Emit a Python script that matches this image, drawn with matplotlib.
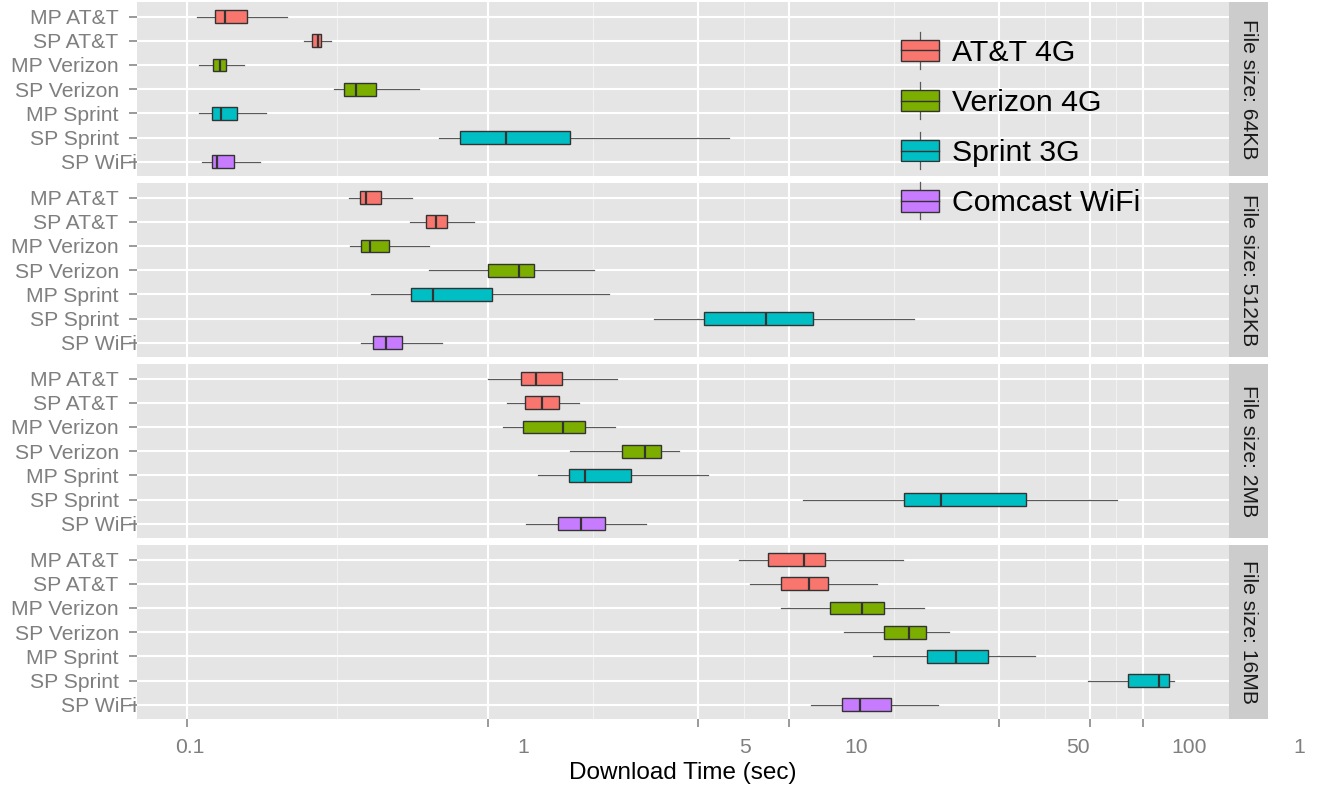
import numpy as np
import matplotlib
matplotlib.use("Agg")
import matplotlib.pyplot as plt
import matplotlib.transforms as mtransforms
from matplotlib.legend_handler import HandlerBase
from matplotlib.patches import Rectangle
from matplotlib.lines import Line2D

plt.rcParams['font.family'] = ['Liberation Sans', 'DejaVu Sans']

# ---------------------------------------------------------------- data
file_sizes = ["File size: 64KB", "File size: 512KB", "File size: 2MB", "File size: 16MB"]
categories = ["MP AT&T", "SP AT&T", "MP Verizon", "SP Verizon",
              "MP Sprint", "SP Sprint", "SP WiFi"]
category_carrier = [0, 0, 1, 1, 2, 2, 3]
carriers = ["AT&T 4G", "Verizon 4G", "Sprint 3G", "Comcast WiFi"]
carrier_colors = ["#F8766D", "#7CAE00", "#00BFC4", "#C77CFF"]

# five-number summaries (whisker low, Q1, median, Q3, whisker high), seconds
stats_64kb = [
    [0.1085, 0.124, 0.1345, 0.158, 0.215],
    [0.245, 0.261, 0.273, 0.280, 0.301],
    [0.110, 0.1223, 0.1287, 0.1355, 0.1555],
    [0.308, 0.333, 0.366, 0.426, 0.590],
    [0.110, 0.121, 0.130, 0.147, 0.184],
    [0.689, 0.811, 1.148, 1.873, 6.33],
    [0.112, 0.121, 0.126, 0.143, 0.175],
]
stats_512kb = [
    [0.345, 0.376, 0.393, 0.442, 0.558],
    [0.552, 0.622, 0.675, 0.734, 0.901],
    [0.349, 0.379, 0.406, 0.469, 0.637],
    [0.637, 1.002, 1.268, 1.421, 2.245],
    [0.409, 0.554, 0.658, 1.034, 2.52],
    [3.56, 5.23, 8.39, 12.04, 25.96],
    [0.378, 0.414, 0.460, 0.517, 0.705],
]
stats_2mb = [
    [1.004, 1.292, 1.441, 1.763, 2.693],
    [1.158, 1.332, 1.511, 1.728, 2.001],
    [1.127, 1.31, 1.775, 2.106, 2.638],
    [1.868, 2.796, 3.328, 3.751, 4.314],
    [1.472, 1.855, 2.098, 2.993, 5.385],
    [11.15, 24.12, 31.92, 61.3, 122.6],
    [1.337, 1.71, 2.035, 2.455, 3.351],
]
stats_16mb = [
    [6.82, 8.51, 11.22, 13.15, 23.88],
    [7.42, 9.42, 11.63, 13.52, 19.68],
    [9.42, 13.72, 17.53, 20.67, 28.15],
    [15.23, 20.75, 25.07, 28.46, 34.15],
    [18.99, 28.85, 35.98, 45.68, 65.6],
    [98.2, 134.2, 169.8, 182.7, 190.6],
    [11.8, 14.97, 17.23, 21.79, 31.38],
]
panel_stats = [stats_64kb, stats_512kb, stats_2mb, stats_16mb]

x_breaks = [0.1, 1, 5, 10, 50, 100, 150]
x_labels = ["0.1", "1", "5", "10", "50", "100", "150"]
x_label_slots = [0, 3, 5, 6, 8, 9, 10.1]
x_limits = (0.0682, 289.6)

# ---------------------------------------------------------------- layout
W, H, DPI = 1319, 791, 100
fig = plt.figure(figsize=(W / DPI, H / DPI), dpi=DPI)
fig.patch.set_facecolor("white")

panel_left, panel_right = 136.7, 1229.0
strip_w = 38.7
panel_h, panel_gap, panel_top0 = 174.4, 6.6, 2.0
device_right = 1305.0
slot_px, slot_max = 111.0, 10.2

bg = "#E5E5E5"
grid_major = "white"
grid_minor = "#F2F2F2"
axis_grey = "#7F7F7F"
edge = "#333333"
whisker_col = "#595959"

minor_breaks = np.sqrt(np.array(x_breaks[:-1]) * np.array(x_breaks[1:]))


def fig_rect(left_px, top_px, w_px, h_px):
    return [left_px / W, 1 - (top_px + h_px) / H, w_px / W, h_px / H]


axes = []
for i, (label, stats) in enumerate(zip(file_sizes, panel_stats)):
    top = panel_top0 + i * (panel_h + panel_gap)
    ax = fig.add_axes(fig_rect(panel_left, top, panel_right - panel_left, panel_h))
    axes.append(ax)
    ax.set_facecolor(bg)
    ax.set_xscale("log")
    for s in ax.spines.values():
        s.set_visible(False)

    # grid
    ax.set_xticks(x_breaks)
    ax.set_xticks(minor_breaks, minor=True)
    ax.set_yticks(np.arange(1, len(categories) + 1))
    ax.set_yticklabels(categories)
    ax.grid(True, which="major", axis="both", color=grid_major, lw=1.5, zorder=0)
    ax.grid(True, which="minor", axis="x", color=grid_minor, lw=0.8, zorder=0)
    ax.set_axisbelow(True)

    ax.tick_params(axis="y", which="major", length=6, width=1.1, color=axis_grey,
                   labelcolor=axis_grey, labelsize=15.2, pad=7)
    ax.tick_params(axis="x", which="minor", length=0, labelbottom=False)
    if i == len(file_sizes) - 1:
        ax.tick_params(axis="x", which="major", length=6, width=1.1, color=axis_grey,
                       labelbottom=False)
    else:
        ax.tick_params(axis="x", which="major", length=0, labelbottom=False)

    # boxes
    bxp_stats = []
    for cat, (lo, q1, med, q3, hi) in zip(categories, stats):
        bxp_stats.append(dict(label=cat, whislo=lo, q1=q1, med=med, q3=q3,
                              whishi=hi, fliers=[]))
    parts = ax.bxp(bxp_stats, positions=np.arange(1, len(categories) + 1),
                   widths=0.53, orientation="horizontal", patch_artist=True,
                   showcaps=False, showfliers=False,
                   boxprops=dict(edgecolor=edge, linewidth=1.0),
                   whiskerprops=dict(color=whisker_col, linewidth=0.9),
                   medianprops=dict(color=edge, linewidth=1.6),
                   manage_ticks=False)
    for patch, c in zip(parts["boxes"], category_carrier):
        patch.set_facecolor(carrier_colors[c])
        patch.set_zorder(3)
    for m in parts["medians"]:
        m.set_zorder(4)
    ax.set_yticks(np.arange(1, len(categories) + 1))
    ax.set_yticklabels(categories)
    ax.set_xlim(*x_limits)
    ax.set_ylim(len(categories) + 0.6, 0.4)

    # last label sits flush against the panel
    lbl = ax.get_yticklabels()[-1]
    lbl.set_transform(lbl.get_transform() +
                      mtransforms.ScaledTranslation(18.5 / DPI, 0, fig.dpi_scale_trans))

    # facet strip
    sax = fig.add_axes(fig_rect(panel_right, top, strip_w, panel_h))
    sax.set_facecolor("#CCCCCC")
    sax.set_xticks([])
    sax.set_yticks([])
    for s in sax.spines.values():
        s.set_visible(False)
    sax.text(0.5, 0.5, label, rotation=-90, ha="center", va="center",
             fontsize=15.2, color="#1A1A1A", transform=sax.transAxes)

# x tick labels
bottom_px = panel_top0 + 3 * (panel_h + panel_gap) + panel_h
lab_ax = fig.add_axes(fig_rect(190, bottom_px, slot_px * slot_max, 1))
lab_ax.patch.set_visible(False)
for s in lab_ax.spines.values():
    s.set_visible(False)
lab_ax.set_yticks([])
lab_ax.set_xticks(x_label_slots)
lab_ax.set_xticklabels(x_labels)
lab_ax.set_xlim(0, slot_max)
lab_ax.tick_params(axis="x", length=0, pad=13, labelsize=15.2, labelcolor=axis_grey)

# labels are cut at the right edge of the drawing area
device_clip = mtransforms.TransformedBbox(
    mtransforms.Bbox.from_extents(0, 0, device_right / W, 1), fig.transFigure)
for t in lab_ax.get_xticklabels():
    t.set_clip_on(True)
    t.set_clip_box(device_clip)

fig.text((panel_left + panel_right) / 2 / W, 1 - 773 / H, "Download Time (sec)",
         ha="center", va="center", fontsize=17.5, color="black")


# legend with boxplot-shaped keys
class BoxKeyHandler(HandlerBase):
    def create_artists(self, legend, orig_handle, xdescent, ydescent, width,
                       height, fontsize, trans):
        x0, y0 = -xdescent, -ydescent
        cx = x0 + width / 2
        whisk = Line2D([cx, cx], [y0 - 0.1 * height, y0 + 1.1 * height],
                       color=whisker_col, lw=0.9, transform=trans)
        box = Rectangle((x0, y0 + 0.15 * height), width, 0.7 * height,
                        facecolor=orig_handle.get_facecolor(), edgecolor=edge,
                        lw=1.0, transform=trans)
        med = Line2D([x0, x0 + width], [y0 + height / 2] * 2, color=edge, lw=1.0,
                     transform=trans)
        return [whisk, box, med]


handles = [Rectangle((0, 0), 1, 1, facecolor=c) for c in carrier_colors]
fs = 21.8
fs_px = fs * DPI / 72
fig.legend(handles, carriers, loc="upper left",
           bbox_to_anchor=(901 / W, 1 - 35 / H), bbox_transform=fig.transFigure,
           frameon=False, borderpad=0, borderaxespad=0, fontsize=fs,
           handlelength=38 / fs_px, handleheight=36 / fs_px,
           labelspacing=18.5 / fs_px, handletextpad=12.7 / fs_px,
           handler_map={Rectangle: BoxKeyHandler()})

fig.savefig("out.png", dpi=DPI, facecolor="white")
